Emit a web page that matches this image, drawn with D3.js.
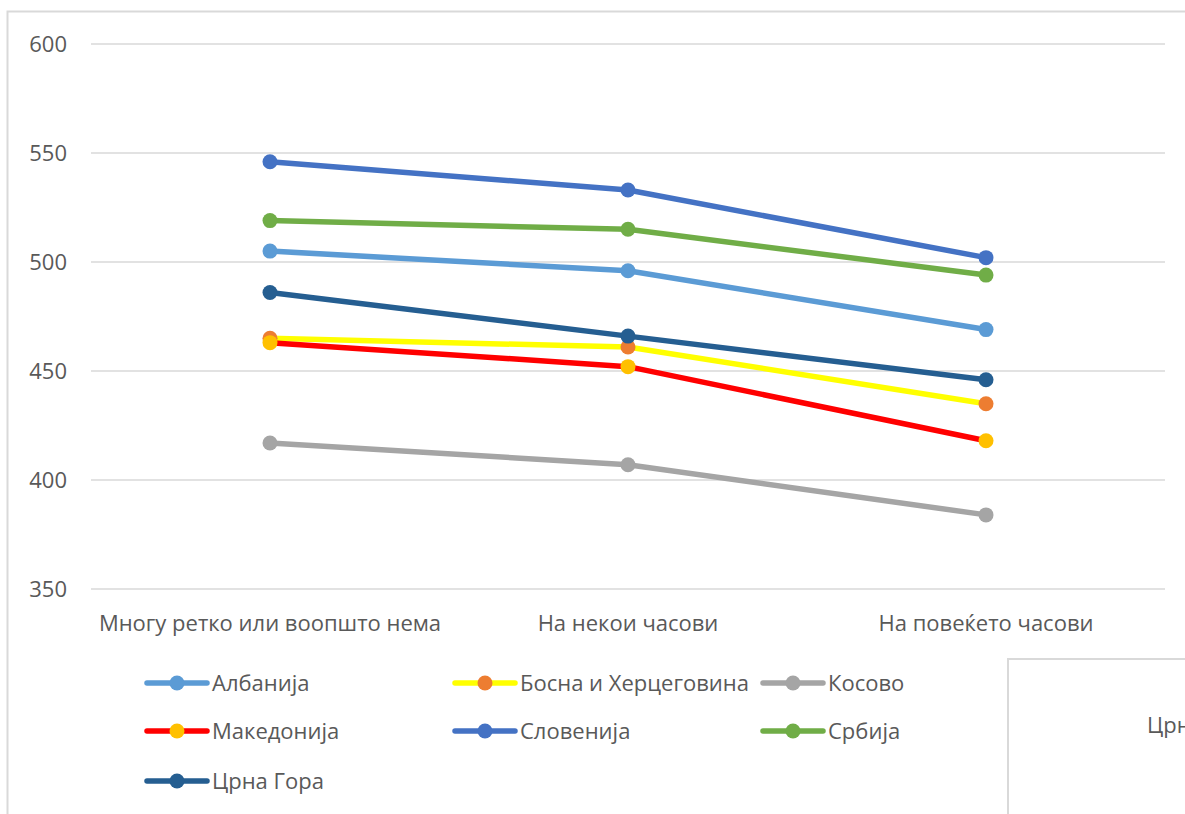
<!DOCTYPE html>
<html><head><meta charset="utf-8">
<script src="https://cdn.jsdelivr.net/npm/d3@7"></script>
<style>body{margin:0;background:#fff;overflow:hidden}svg{display:block;font-family:"Open Sans",Lato,sans-serif}</style>
</head><body>
<svg id="c" width="1185" height="814"></svg>
<script>
const categories = ["Многу ретко или воопшто нема", "На некои часови", "На повеќето часови"];
const seriesNames = ["Албанија", "Босна и Херцеговина", "Косово", "Македонија", "Словенија", "Србија", "Црна Гора"];
const albanija = [505, 496, 469];
const bosna = [465, 461, 435];
const kosovo = [417, 407, 384];
const makedonija = [463, 452, 418];
const slovenija = [546, 533, 502];
const srbija = [519, 515, 494];
const crnaGora = [486, 466, 446];
const yTicks = [350, 400, 450, 500, 550, 600];
const lineColors = ["#5B9BD5", "#FFFF00", "#A5A5A5", "#FF0000", "#4472C4", "#70AD47", "#255E91"];
const markerColors = ["#5B9BD5", "#ED7D31", "#A5A5A5", "#FFC000", "#4472C4", "#70AD47", "#255E91"];
const values = [albanija, bosna, kosovo, makedonija, slovenija, srbija, crnaGora];

const svg = d3.select("#c");
// outer chart border
svg.append("rect").attr("x", 7.5).attr("y", 11.5).attr("width", 1200).attr("height", 900)
  .attr("fill", "#fff").attr("stroke", "#d9d9d9").attr("stroke-width", 2);

const x = d3.scaleBand().domain(categories).range([91, 1165]);
const y = d3.scaleLinear().domain([350, 600]).range([589, 44]);

// gridlines
svg.append("g").selectAll("line").data(yTicks).join("line")
  .attr("x1", 91).attr("x2", 1165).attr("y1", d => y(d)).attr("y2", d => y(d))
  .attr("stroke", "#d9d9d9").attr("stroke-width", 1.5);

// y tick labels
svg.append("g").selectAll("text").data(yTicks).join("text")
  .attr("x", 67).attr("y", d => y(d)).attr("dy", "0.35em").attr("text-anchor", "end")
  .attr("fill", "#595959").attr("font-size", 22).text(d => d);

// x labels
svg.append("g").selectAll("text").data(categories).join("text")
  .attr("x", d => x(d) + x.bandwidth() / 2).attr("y", 623).attr("dy", "0.35em")
  .attr("text-anchor", "middle").attr("fill", "#595959").attr("font-size", 22).text(d => d);

const line = d3.line().x((d, i) => x(categories[i]) + x.bandwidth() / 2).y(d => y(d));
values.forEach((vals, si) => {
  const g = svg.append("g");
  g.append("path").datum(vals).attr("d", line).attr("fill", "none")
    .attr("stroke", lineColors[si]).attr("stroke-width", 5.5).attr("stroke-linejoin", "round");
  g.selectAll("circle").data(vals).join("circle")
    .attr("cx", (d, i) => x(categories[i]) + x.bandwidth() / 2).attr("cy", d => y(d))
    .attr("r", 7.5).attr("fill", markerColors[si]);
});

// legend
const legPos = [[147, 683], [455, 683], [763, 683], [147, 731], [455, 731], [763, 731], [147, 781]];
seriesNames.forEach((name, i) => {
  const [lx, ly] = legPos[i];
  const g = svg.append("g");
  g.append("line").attr("x1", lx).attr("x2", lx + 60).attr("y1", ly).attr("y2", ly)
    .attr("stroke", lineColors[i]).attr("stroke-width", 5.5).attr("stroke-linecap", "round");
  g.append("circle").attr("cx", lx + 30).attr("cy", ly).attr("r", 7.5).attr("fill", markerColors[i]);
  g.append("text").attr("x", lx + 65).attr("y", ly).attr("dy", "0.35em")
    .attr("fill", "#595959").attr("font-size", 22).text(name);
});

// overlapping box at bottom right
svg.append("rect").attr("x", 1008).attr("y", 659).attr("width", 300).attr("height", 300)
  .attr("fill", "#fff").attr("stroke", "#d9d9d9").attr("stroke-width", 2);
svg.append("text").attr("x", 1147).attr("y", 725).attr("dy", "0.35em")
  .attr("fill", "#595959").attr("font-size", 22).text("Црна Гора");
</script>
</body></html>
